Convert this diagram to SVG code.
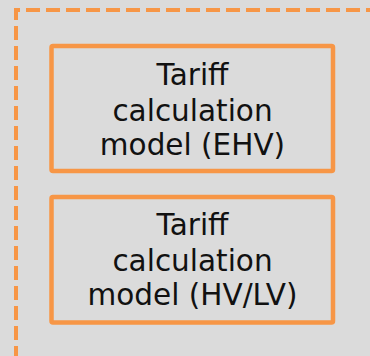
<svg xmlns="http://www.w3.org/2000/svg" width="370" height="356" viewBox="0 0 370 356">
  <style>
    .box { fill: none; stroke: #f79646; stroke-width: 4.5; }
    .frame { fill: none; stroke: #f79646; stroke-width: 4; stroke-dasharray: 14 6; }
    .label { font-family: "DejaVu Sans", Verdana, sans-serif; font-size: 29.5px; fill: #111111; text-anchor: middle; }
  </style>
  <rect x="0" y="0" width="370" height="356" fill="#dbdbdb"/>
  <!-- dashed container outline, running off the right and bottom edges -->
  <path class="frame" d="M16 360 V10 H375"/>
  <g id="tariff-ehv">
    <rect class="box" x="51.5" y="46" width="281.5" height="125" rx="1.5"/>
    <text class="label" x="192.5" y="84.5">Tariff</text>
    <text class="label" x="192.5" y="120.5">calculation</text>
    <text class="label" x="192.5" y="155">model (EHV)</text>
  </g>
  <g id="tariff-hvlv">
    <rect class="box" x="51.5" y="197" width="281.5" height="125.5" rx="1.5"/>
    <text class="label" x="192.5" y="235">Tariff</text>
    <text class="label" x="192.5" y="270.5">calculation</text>
    <text class="label" x="192.5" y="305">model (HV/LV)</text>
  </g>
  <g id="connectors"/>
</svg>
